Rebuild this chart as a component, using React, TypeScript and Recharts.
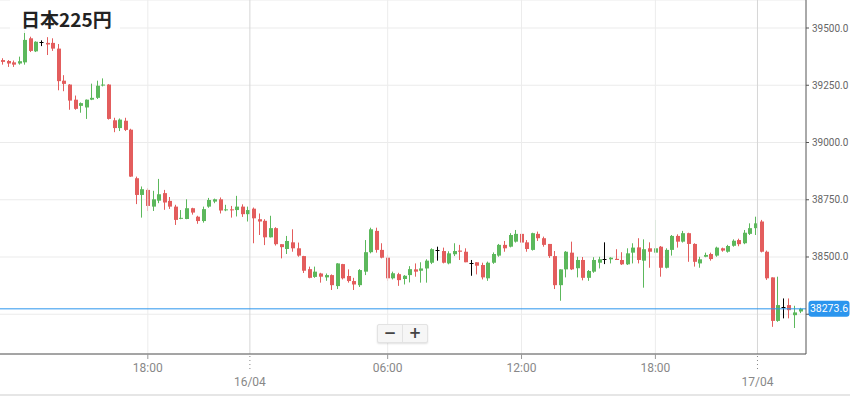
import React from 'react';
import { ComposedChart, Bar, XAxis, YAxis, CartesianGrid, ReferenceLine } from 'recharts';

// 15-minute candles, 日本225円
const opens = [
  39360, 39356, 39350, 39345, 39350, 39455, 39398, 39440, 39435, 39435,
  39410, 39270, 39253, 39187, 39160, 39153, 39187, 39195, 39250, 39253,
  39097, 39063, 39095, 39056, 38844, 38771, 38793, 38720, 38746, 38779,
  38745, 38720, 38667, 38666, 38713, 38676, 38657, 38720, 38742, 38752,
  38705, 38708, 38705, 38720, 38687, 38711, 38665, 38658, 38586, 38626,
  38556, 38535, 38564, 38538, 38504, 38447, 38413, 38428, 38411, 38421,
  38373, 38469, 38417, 38395, 38377, 38436, 38521, 38614, 38531, 38497,
  38407, 38425, 38404, 38421, 38446, 38440, 38450, 38475, 38531, 38526,
  38472, 38512, 38528, 38523, 38472, 38477, 38465, 38407, 38475, 38506,
  38553, 38545, 38567, 38601, 38564, 38531, 38601, 38582, 38557, 38504,
  38377, 38446, 38519, 38451, 38487, 38409, 38436, 38475, 38490, 38490,
  38492, 38487, 38468, 38519, 38542, 38484, 38538, 38519, 38545, 38453,
  38531, 38592, 38567, 38604, 38557, 38472, 38501, 38513, 38506, 38538,
  38523, 38549, 38574, 38560, 38601, 38626, 38655, 38523, 38411, 38221,
  38282, 38290, 38246, 38262,
];
const highs = [
  39368, 39360, 39358, 39375, 39490, 39462, 39442, 39446, 39460, 39455,
  39430, 39294, 39255, 39205, 39175, 39188, 39257, 39270, 39280, 39255,
  39108, 39105, 39108, 39060, 38851, 38808, 38800, 38789, 38841, 38793,
  38762, 38728, 38705, 38752, 38715, 38680, 38720, 38758, 38755, 38760,
  38728, 38723, 38767, 38730, 38720, 38716, 38690, 38665, 38680, 38630,
  38556, 38592, 38621, 38563, 38505, 38458, 38458, 38431, 38428, 38424,
  38473, 38470, 38446, 38409, 38447, 38574, 38628, 38628, 38560, 38510,
  38436, 38431, 38421, 38460, 38472, 38477, 38490, 38538, 38545, 38541,
  38525, 38560, 38553, 38538, 38487, 38477, 38475, 38480, 38520, 38557,
  38570, 38604, 38618, 38606, 38574, 38606, 38611, 38589, 38557, 38526,
  38446, 38526, 38567, 38501, 38500, 38443, 38499, 38501, 38564, 38499,
  38534, 38521, 38538, 38560, 38582, 38577, 38564, 38662, 38548, 38538,
  38596, 38599, 38614, 38606, 38560, 38501, 38519, 38519, 38545, 38541,
  38553, 38577, 38580, 38618, 38647, 38676, 38662, 38528, 38411, 38414,
  38319, 38319, 38287, 38278,
];
const lows = [
  39340, 39330, 39330, 39340, 39340, 39395, 39395, 39421, 39382, 39400,
  39228, 39224, 39143, 39143, 39130, 39103, 39185, 39190, 39245, 39100,
  39045, 39050, 39050, 38850, 38731, 38672, 38701, 38701, 38735, 38706,
  38710, 38640, 38665, 38665, 38685, 38645, 38650, 38715, 38735, 38690,
  38700, 38672, 38677, 38675, 38655, 38560, 38596, 38552, 38585, 38550,
  38494, 38513, 38523, 38501, 38430, 38407, 38409, 38388, 38396, 38356,
  38360, 38402, 38388, 38356, 38369, 38421, 38516, 38519, 38494, 38395,
  38402, 38374, 38380, 38389, 38414, 38388, 38388, 38469, 38484, 38472,
  38468, 38504, 38487, 38477, 38418, 38424, 38402, 38396, 38470, 38501,
  38523, 38542, 38563, 38557, 38523, 38528, 38570, 38545, 38496, 38360,
  38309, 38411, 38443, 38411, 38398, 38396, 38431, 38450, 38469, 38472,
  38487, 38465, 38465, 38472, 38472, 38366, 38453, 38516, 38414, 38450,
  38506, 38541, 38563, 38479, 38458, 38453, 38499, 38484, 38501, 38523,
  38519, 38545, 38547, 38556, 38596, 38596, 38520, 38400, 38195, 38217,
  38232, 38232, 38190, 38255,
];
const closes = [
  39352, 39345, 39340, 39355, 39448, 39400, 39440, 39440, 39428, 39410,
  39268, 39256, 39183, 39147, 39172, 39187, 39195, 39248, 39253, 39103,
  39063, 39100, 39055, 38851, 38771, 38796, 38723, 38752, 38774, 38738,
  38720, 38662, 38671, 38713, 38694, 38657, 38709, 38749, 38752, 38703,
  38708, 38705, 38720, 38687, 38705, 38669, 38655, 38586, 38626, 38556,
  38543, 38570, 38538, 38506, 38440, 38409, 38436, 38414, 38421, 38377,
  38472, 38407, 38395, 38380, 38443, 38521, 38621, 38531, 38497, 38407,
  38429, 38399, 38418, 38447, 38436, 38450, 38484, 38534, 38531, 38475,
  38516, 38526, 38523, 38477, 38472, 38462, 38411, 38475, 38513, 38553,
  38538, 38596, 38601, 38563, 38535, 38604, 38582, 38553, 38504, 38377,
  38446, 38523, 38446, 38487, 38409, 38439, 38487, 38490, 38490, 38497,
  38487, 38468, 38516, 38541, 38487, 38534, 38523, 38538, 38453, 38531,
  38592, 38567, 38604, 38557, 38479, 38490, 38509, 38491, 38541, 38528,
  38548, 38571, 38556, 38606, 38626, 38647, 38523, 38407, 38221, 38290,
  38282, 38268, 38258, 38273.6,
];

const tickIdx = [26, 44.3, 69, 93, 117, 135.3];
const tickLabels = ['18:00', '16/04', '06:00', '12:00', '18:00', '17/04'];
const dayLabels = ['16/04', '17/04'];
const priceTicks = [38250, 38500, 38750, 39000, 39250, 39500];
const lastPrice = 38273.6;

const GREEN = '#5cb85c';
const RED = '#e35d5d';
const BLUE = '#2b95ee';
const AXIS_Y = 354;
const FONT = 'Roboto, "Noto Sans", sans-serif';

const data = opens.map((o, i) => ({
  i,
  open: o,
  high: highs[i],
  low: lows[i],
  close: closes[i],
  range: [lows[i], highs[i]],
}));

const Candle = (props: any) => {
  const { x, y, width, height, payload } = props;
  if (x == null || y == null) return null;
  const { open, close, high, low } = payload;
  const top = Math.min(y, y + height);
  const h = Math.abs(height);
  const toY = (v: number) => (high === low ? top : top + ((high - v) / (high - low)) * h);
  const cx = x + width / 2;
  const left = Math.round(cx - 2);
  const wx = left + 1.5;
  if (open === close) {
    const yy = Math.round(toY(open)) + 0.5;
    return (
      <g>
        <line x1={wx} x2={wx} y1={top} y2={top + h} stroke="#000" strokeWidth={1} />
        <line x1={left - 0.5} x2={left + 3.5} y1={yy} y2={yy} stroke="#000" strokeWidth={1} />
      </g>
    );
  }
  const color = close > open ? GREEN : RED;
  const bTop = toY(Math.max(open, close));
  const bBot = toY(Math.min(open, close));
  return (
    <g>
      <line x1={wx} x2={wx} y1={top} y2={top + h} stroke={color} strokeWidth={1} />
      <rect x={left} y={bTop} width={4} height={Math.max(1, bBot - bTop)} fill={color} />
    </g>
  );
};

const TimeTick = (props: any) => {
  const { x, payload } = props;
  const label = tickLabels[tickIdx.indexOf(payload.value)];
  const isDay = dayLabels.includes(label);
  if (isDay) {
    return (
      <g>
        <line x1={x} x2={x} y1={AXIS_Y + 2} y2={AXIS_Y + 18} stroke="#888" strokeDasharray="1 3" />
        <text x={x} y={AXIS_Y + 32} textAnchor="middle" fill="#888" fontSize={12} fontFamily={FONT}>
          {label}
        </text>
      </g>
    );
  }
  return (
    <g>
      <line x1={x} x2={x} y1={AXIS_Y} y2={AXIS_Y + 5} stroke="#999" />
      <text x={x} y={AXIS_Y + 17.5} textAnchor="middle" fill="#888" fontSize={12} fontFamily={FONT}>
        {label}
      </text>
    </g>
  );
};

const PriceAxisTick = (props: any) => {
  const { y, payload } = props;
  if (payload.value === 38250) return null;
  return (
    <text x={812} y={y + 3.5} fill="#666" fontSize={10} fontFamily={FONT}>
      {payload.value.toFixed(1)}
    </text>
  );
};

const PriceTag = (props: any) => {
  const vb = props.viewBox || {};
  const x = (vb.x || 0) + (vb.width || 0) + 2.5;
  const y = vb.y;
  return (
    <g>
      <rect x={x} y={y - 8} width={41} height={16} rx={3} fill={BLUE} />
      <text x={x + 20.5} y={y + 3.5} textAnchor="middle" fill="#fff" fontSize={10.5} fontFamily={FONT}>
        {lastPrice.toFixed(1)}
      </text>
    </g>
  );
};

export default function App() {
  return (
    <div style={{ position: 'absolute', left: 0, top: 0, width: 850, height: 396, background: '#fff', fontFamily: FONT }}>
      <ComposedChart width={850} height={396} data={data} margin={{ top: 0, right: 0, bottom: 0, left: 0 }}>
        <CartesianGrid vertical={false} stroke="#ebebeb" />
        {tickIdx.map((t, k) => (
          <ReferenceLine
            key={k}
            x={t}
            stroke={dayLabels.includes(tickLabels[k]) ? '#d6d6d6' : '#ececec'}
            strokeWidth={1}
          />
        ))}
        <XAxis
          dataKey="i"
          type="number"
          domain={[-0.5, 144]}
          ticks={tickIdx}
          interval={0}
          allowDataOverflow
          height={42}
          stroke="#555"
          tickLine={false}
          tick={<TimeTick />}
        />
        <YAxis
          orientation="right"
          type="number"
          domain={[38076.4, 39622.3]}
          ticks={priceTicks}
          allowDataOverflow
          width={44}
          stroke="#555"
          tickSize={3}
          tick={<PriceAxisTick />}
        />
        <ReferenceLine y={lastPrice} stroke={BLUE} strokeWidth={1} label={<PriceTag />} />
        <Bar dataKey="range" barSize={4} isAnimationActive={false} shape={(p: any) => <Candle {...p} />} />
      </ComposedChart>

      <div
        style={{
          position: 'absolute',
          left: 10,
          top: 0,
          width: 110,
          height: 33,
          background: 'rgba(255,255,255,0.85)',
        }}
      />
      <div
        style={{
          position: 'absolute',
          left: 21,
          top: 6,
          fontSize: 19,
          fontWeight: 'bold',
          color: '#222',
          fontFamily: '"Noto Sans CJK JP", "Noto Sans", sans-serif',
          lineHeight: '26px',
          whiteSpace: 'nowrap',
        }}
      >
        日本225円
      </div>

      <div
        style={{
          position: 'absolute',
          left: 377,
          top: 324,
          width: 51,
          height: 19,
          display: 'flex',
          background: '#f6f6f6',
          border: '1px solid #e3e3e3',
          borderRadius: 2,
          boxShadow: '0 1px 2px rgba(0,0,0,0.12)',
          boxSizing: 'border-box',
          color: '#444',
          fontWeight: 'bold',
          fontSize: 15,
          lineHeight: '17px',
          fontFamily: '"DejaVu Sans", sans-serif',
        }}
      >
        <div style={{ flex: 1, textAlign: 'center', borderRight: '1px solid #e3e3e3' }}>−</div>
        <div style={{ flex: 1, textAlign: 'center' }}>+</div>
      </div>

      <div style={{ position: 'absolute', left: 0, top: 394, width: 850, height: 2, background: '#e6e6e6' }} />
    </div>
  );
}
